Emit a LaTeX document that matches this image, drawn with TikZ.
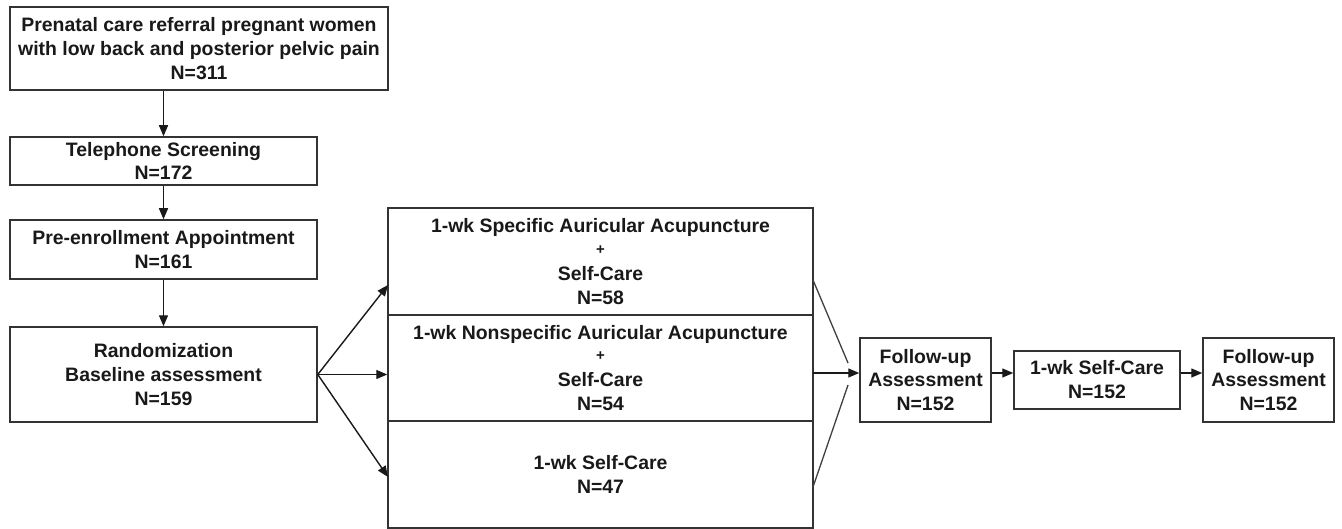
\documentclass[tikz,border=0pt]{standalone}
\usepackage{fontspec}
\setmainfont{Liberation Sans}
\usetikzlibrary{arrows.meta}
\begin{document}
\begin{tikzpicture}[x=1bp,y=-1bp,
  box/.style={draw=black!80, line width=1.5bp, inner sep=0pt, align=center,
    font=\fontsize{19.5}{24}\selectfont\bfseries, text=black!90, fill=white},
  arr/.style={-{Triangle[length=11bp,width=9bp]}, line width=1.4bp, draw=black!90},
  ln/.style={line width=1.3bp, draw=black!75}]
\path[use as bounding box, fill=white] (0,0) rectangle (1342,529);

\node[box, minimum width=378bp, minimum height=83bp] (n1) at (199,48.5)
  {Prenatal care referral pregnant women\\with low back and posterior pelvic pain\\N=311};
\node[box, minimum width=307bp, minimum height=48bp] (n2) at (163.5,161)
  {Telephone Screening\\N=172};
\node[box, minimum width=307bp, minimum height=59bp] (n3) at (163.5,249.5)
  {Pre-enrollment Appointment\\N=161};
\node[box, minimum width=307bp, minimum height=95bp] (n4) at (163.5,374.5)
  {Randomization\\Baseline assessment\\N=159};

\node[box, minimum width=425bp, minimum height=107bp] (g1) at (600.5,261.5)
  {1-wk Specific Auricular Acupuncture\\[-2bp]{\fontsize{15}{15}\selectfont +}\\[2bp]Self-Care\\N=58};
\node[box, minimum width=425bp, minimum height=106bp] (g2) at (600.5,368)
  {1-wk Nonspecific Auricular Acupuncture\\[-2bp]{\fontsize{15}{15}\selectfont +}\\[2bp]Self-Care\\N=54};
\node[box, minimum width=425bp, minimum height=107bp] (g3) at (600.5,474.5)
  {1-wk Self-Care\\N=47};

\node[box, minimum width=131bp, minimum height=84bp] (f1) at (925.5,380)
  {Follow-up\\Assessment\\N=152};
\node[box, minimum width=166bp, minimum height=58bp] (sc) at (1097,380)
  {1-wk Self-Care\\N=152};
\node[box, minimum width=131bp, minimum height=84bp] (f2) at (1268.5,380)
  {Follow-up\\Assessment\\N=152};

\draw[arr] (n1.south -| n2.north) -- (n2.north);
\draw[arr] (n2) -- (n3);
\draw[arr] (n3) -- (n4);

\coordinate (a1) at (388,285);
\coordinate (a3) at (388,477);
\draw[arr] (n4.east) -- (a1);
\draw[arr] (n4.east) -- (n4.east -| g2.west);
\draw[arr] (n4.east) -- (a3);

\coordinate (b1) at (813,280);
\coordinate (b3) at (813,487);
\coordinate (c1) at (848,363);
\coordinate (c3) at (848,385);
\coordinate (m) at (813,373);
\draw[ln] (b1) -- (c1);
\draw[ln] (b3) -- (c3);
\draw[arr] (m) -- (m -| f1.west);
\draw[arr] ([yshift=7bp]f1.east) -- ([yshift=7bp]sc.west);
\draw[arr] ([yshift=7bp]sc.east) -- ([yshift=7bp]f2.west);
\end{tikzpicture}
\end{document}
